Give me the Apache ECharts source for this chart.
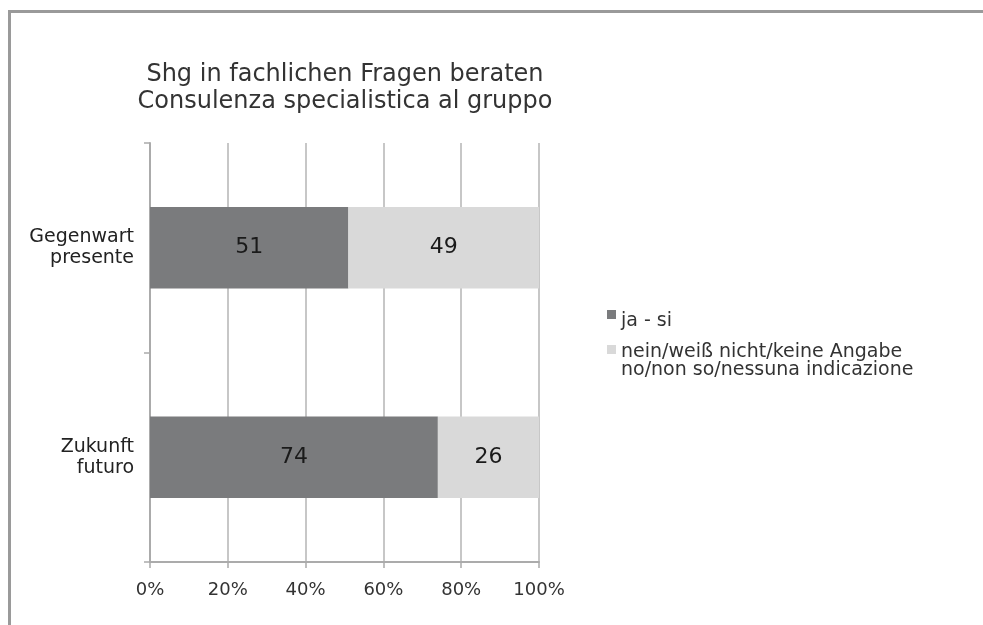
<!DOCTYPE html>
<html>
<head>
<meta charset="utf-8">
<script src="https://cdn.jsdelivr.net/npm/echarts@6/dist/echarts.min.js"></script>
<style>
  html, body { margin: 0; padding: 0; background: #fff; }
  #frame { position: absolute; left: 8px; top: 10px; right: 0; bottom: 0;
           border-top: 3px solid #9a9a9a; border-left: 3px solid #9a9a9a; }
  #myChart { position: absolute; left: 0; top: 0; }
</style>
</head>
<body>
<div id="frame"></div>
<div id="myChart" style="width: 983px; height: 625px;"></div>
<script>
  // Werte
  var categories = ['Gegenwart\npresente', 'Zukunft\nfuturo'];
  var jaSi = [51, 74];
  var neinWeiss = [49, 26];
  var seriesNames = ['ja - si', 'nein/weiß nicht/keine Angabe\nno/non so/nessuna indicazione'];
  var xTicks = [0, 20, 40, 60, 80, 100];

  var font = 'DejaVu Sans, sans-serif';
  var myChart = echarts.init(document.getElementById('myChart'));

  // Quadrat oben im Symbol, damit es auf Höhe der ersten Textzeile sitzt
  var iconTop1 = 'path://M0,0M2,0h9v9h-9zM0,23';
  var iconTop2 = 'path://M0,0M2,0h9v9h-9zM0,33';

  myChart.setOption({
    animation: false,
    textStyle: { fontFamily: font },
    title: {
      text: 'Shg in fachlichen Fragen beraten\nConsulenza specialistica al gruppo',
      left: 340,
      top: 56,
      textAlign: 'center',
      textStyle: { fontFamily: font, fontSize: 24, fontWeight: 'normal', color: '#333', lineHeight: 27 }
    },
    legend: [{
      data: [seriesNames[0]],
      left: 605,
      top: 310,
      padding: 0,
      itemWidth: 11,
      itemHeight: 23,
      icon: iconTop1,
      textStyle: { fontFamily: font, fontSize: 19, color: '#333', lineHeight: 18 }
    }, {
      data: [seriesNames[1]],
      left: 605,
      top: 343,
      padding: 0,
      itemWidth: 11,
      itemHeight: 33,
      icon: iconTop2,
      textStyle: { fontFamily: font, fontSize: 19, color: '#333', lineHeight: 18 }
    }],
    grid: {
      left: 150,
      right: 444,
      top: 143,
      bottom: 63,
      containLabel: false
    },
    xAxis: {
      type: 'value',
      min: 0,
      max: 100,
      interval: 20,
      axisLine: { show: true, lineStyle: { color: '#ababab', width: 2 } },
      axisTick: { show: true, length: 6, lineStyle: { color: '#ababab', width: 1.5 } },
      splitLine: { show: true, lineStyle: { color: '#b4b4b4', width: 1.5 } },
      axisLabel: {
        margin: 19,
        fontSize: 18,
        color: '#333',
        fontFamily: font,
        formatter: function (v) { return xTicks.indexOf(v) >= 0 ? v + '%' : ''; }
      }
    },
    yAxis: {
      type: 'category',
      inverse: true,
      data: categories,
      axisLine: { show: true, lineStyle: { color: '#ababab', width: 2 } },
      axisTick: { show: true, length: 6, lineStyle: { color: '#ababab', width: 1.5 } },
      axisLabel: {
        margin: 16,
        fontSize: 19,
        lineHeight: 21,
        color: '#222',
        fontFamily: font
      }
    },
    series: [{
      name: seriesNames[0],
      type: 'bar',
      stack: 'total',
      barWidth: '39%',
      data: jaSi,
      itemStyle: { color: '#7a7b7d' },
      label: { show: true, position: 'inside', fontSize: 22, color: '#1a1a1a', fontFamily: font }
    }, {
      name: seriesNames[1],
      type: 'bar',
      stack: 'total',
      barWidth: '39%',
      data: neinWeiss,
      itemStyle: { color: '#d9d9d9' },
      label: { show: true, position: 'inside', fontSize: 22, color: '#1a1a1a', fontFamily: font }
    }]
  });
</script>
</body>
</html>
